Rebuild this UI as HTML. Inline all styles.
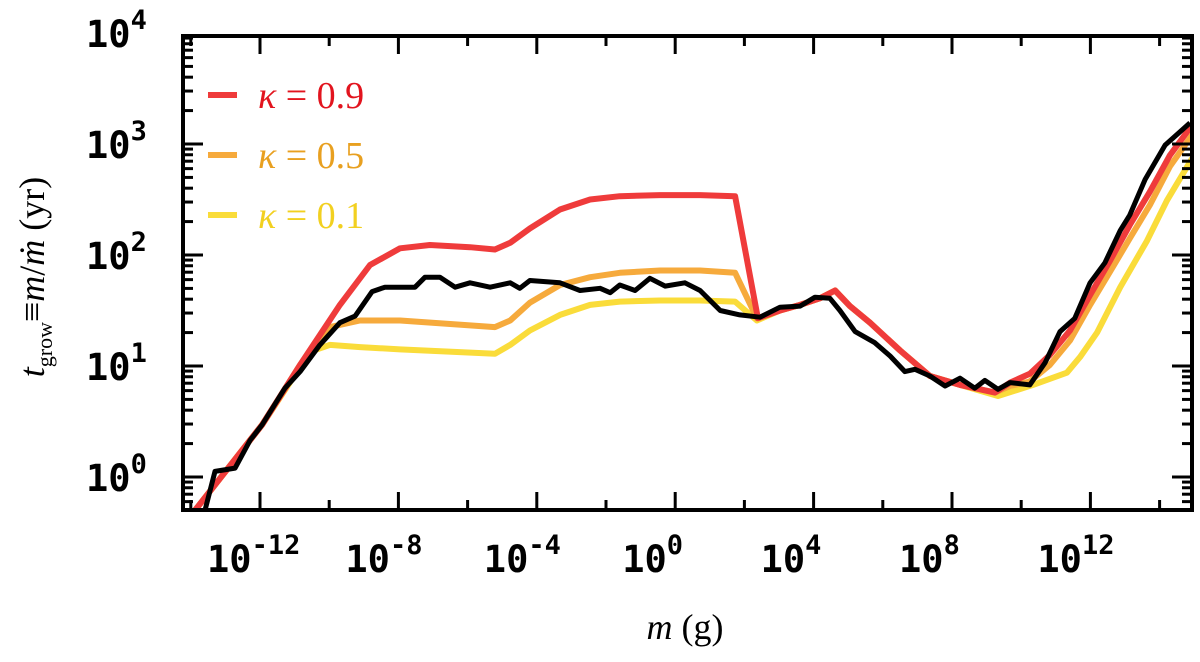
<!DOCTYPE html>
<html><head><meta charset="utf-8"><style>
body{margin:0;background:#fff;}
svg text{font-family:"DejaVu Sans Mono","Liberation Mono",monospace;}
</style></head><body>
<svg id="chart" width="1200" height="657" viewBox="0 0 1200 657" xmlns="http://www.w3.org/2000/svg">
<g id="plot"></g>
</svg>
<script>
const xTicks=[-12,-8,-4,0,4,8,12];
const yTicks=[0,1,2,3,4];
const blackM=[-13.59,-13.30,-12.72,-12.29,-11.94,-11.28,-10.84,-10.27,-9.69,-9.25,-8.76,-8.39,-7.95,-7.52,-7.23,-6.80,-6.36,-5.93,-5.35,-4.77,-4.49,-4.20,-3.33,-2.75,-2.17,-1.88,-1.60,-1.16,-0.73,-0.29,0.28,0.72,1.30,1.87,2.45,3.03,3.61,4.04,4.47,4.76,5.20,5.77,6.21,6.64,6.93,7.36,7.80,8.23,8.66,8.95,9.33,9.68,10.25,10.69,11.12,11.55,11.99,12.42,12.86,13.14,13.58,14.16,14.88];
const blackT=[-0.30,0.05,0.08,0.33,0.47,0.80,0.95,1.19,1.39,1.45,1.67,1.71,1.71,1.71,1.80,1.80,1.71,1.75,1.71,1.75,1.70,1.77,1.75,1.68,1.70,1.66,1.73,1.68,1.79,1.72,1.75,1.68,1.50,1.46,1.44,1.53,1.54,1.62,1.61,1.50,1.31,1.21,1.09,0.95,0.97,0.91,0.82,0.89,0.80,0.87,0.79,0.85,0.83,1.03,1.31,1.43,1.75,1.93,2.22,2.36,2.68,2.99,3.19];
const redM=[-13.88,-11.94,-10.84,-9.69,-8.82,-7.95,-7.09,-5.93,-5.21,-4.77,-4.20,-3.33,-2.46,-1.60,-0.44,0.72,1.73,2.39,3.03,3.61,4.18,4.62,5.05,5.63,6.50,7.36,8.23,9.24,9.68,10.25,10.83,11.41,11.99,12.57,13.14,13.72,14.30,14.94];
const redT=[-0.30,0.47,1.01,1.55,1.91,2.06,2.09,2.07,2.05,2.11,2.24,2.41,2.50,2.53,2.54,2.54,2.53,1.43,1.50,1.55,1.61,1.68,1.54,1.39,1.14,0.91,0.83,0.76,0.85,0.93,1.10,1.32,1.64,1.95,2.27,2.57,2.90,3.17];
const orangeM=[-13.88,-11.94,-10.84,-9.98,-9.11,-7.95,-5.21,-4.77,-4.20,-3.33,-2.46,-1.60,-0.44,0.72,1.73,2.36,3.03,3.61,4.18,4.62,5.05,5.63,6.50,7.36,8.23,9.24,9.68,10.25,10.83,11.41,11.99,12.57,13.14,13.72,14.30,14.94];
const orangeT=[-0.30,0.47,1.01,1.35,1.41,1.41,1.35,1.41,1.57,1.73,1.80,1.84,1.86,1.86,1.84,1.43,1.50,1.55,1.61,1.68,1.54,1.39,1.14,0.91,0.83,0.76,0.82,0.86,1.01,1.23,1.55,1.85,2.15,2.45,2.80,3.08];
const yellowM=[-13.88,-11.94,-10.55,-9.98,-9.11,-7.95,-5.21,-4.77,-4.20,-3.33,-2.46,-1.60,-0.44,0.72,1.73,2.36,3.03,3.61,4.18,4.62,5.05,5.63,6.50,7.36,8.23,9.33,10.34,11.32,11.70,12.19,12.86,13.64,14.21,14.94];
const yellowT=[-0.30,0.47,1.13,1.19,1.17,1.15,1.11,1.19,1.32,1.46,1.55,1.58,1.59,1.59,1.58,1.41,1.50,1.55,1.61,1.68,1.54,1.39,1.14,0.91,0.83,0.73,0.83,0.94,1.08,1.30,1.71,2.13,2.49,2.87];

const L=183,R=1192,T=36,B=510;
const X=v=>260+(v+12)*34.6;
const Y=v=>477-v*111;
const NS="http://www.w3.org/2000/svg";
const g=document.getElementById('plot');
function mk(tag,attrs,parent){const e=document.createElementNS(NS,tag);for(const k in attrs)e.setAttribute(k,attrs[k]);(parent||g).appendChild(e);return e;}

const clip=mk('clipPath',{id:'clip'});mk('rect',{x:L,y:T,width:R-L,height:B-T},clip);
const series=[[yellowM,yellowT,'#fadc3a','series-kappa-0.1',6],[orangeM,orangeT,'#f6aa3c','series-kappa-0.5',6],[redM,redT,'#ef3b3b','series-kappa-0.9',6],[blackM,blackT,'#000','series-simulation',5]];
for(const s of series){
  const d=s[0].map((m,i)=>(i?'L':'M')+X(m).toFixed(1)+','+Y(s[1][i]).toFixed(1)).join('');
  const p=mk('path',{d:d,fill:'none',stroke:s[2],'stroke-width':s[4],'stroke-linejoin':'round','clip-path':'url(#clip)'});
  
  
}
for(let v=-14;v<=14;v+=2){
  const x=X(v); if(x<L||x>R)continue;
  const len=(v%4===0)?18:10;
  mk('line',{x1:x,y1:B,x2:x,y2:B-len,stroke:'#000','stroke-width':3});
  mk('line',{x1:x,y1:T,x2:x,y2:T+len,stroke:'#000','stroke-width':3});
}
for(let d=-1;d<4;d++){for(let k=1;k<10;k++){
  const v=d+Math.log10(k);const y=Y(v); if(y<T-1||y>B)continue;
  const len=k===1?20:10;
  mk('line',{x1:L,y1:y,x2:L+len,y2:y,stroke:'#000','stroke-width':3});
  mk('line',{x1:R,y1:y,x2:R-len,y2:y,stroke:'#000','stroke-width':3});
}}
const frame=mk('rect',{x:L,y:T,width:R-L,height:B-T,fill:'none',stroke:'#000','stroke-width':4});


for(const v of xTicks){
  const t=mk('text',{x:X(v)-53,y:572,'font-size':37,'font-weight':'bold'});
  
  
  t.innerHTML='10<tspan dy="-18" font-size="27">'+(v<0?'-'+(-v):v)+'</tspan>';
}
for(const v of yTicks){
  const t=mk('text',{x:86,y:Y(v)+14,'font-size':37,'font-weight':'bold'});
  
  
  t.innerHTML='10<tspan dy="-18" font-size="27">'+v+'</tspan>';
}
const leg=[['#ef3b3b','#e2141e','0.9',95],['#f6aa3c','#e8a020','0.5',155],['#fadc3a','#f2d020','0.1',215]];
for(const l of leg){
  const ln=mk('line',{x1:208,y1:l[3],x2:237,y2:l[3],stroke:l[0],'stroke-width':6});
  
  
  const t=mk('text',{x:258,y:l[3]+13,'font-size':38,fill:l[1],style:'font-family:"Liberation Serif",serif'});
  
  
  t.innerHTML='<tspan font-style="italic">κ</tspan> = '+l[2];
}
const xt=mk('text',{x:685,y:639,'font-size':36,'text-anchor':'middle',style:'font-family:"Liberation Serif",serif'});


xt.innerHTML='<tspan font-style="italic">m</tspan> (g)';
const yt=mk('text',{x:0,y:0,'font-size':36,'text-anchor':'middle',transform:'translate(44,277) rotate(-90)',style:'font-family:"Liberation Serif",serif'});


yt.innerHTML='<tspan font-style="italic">t</tspan><tspan font-size="22" dy="8">grow</tspan><tspan dy="-8">≡</tspan><tspan font-style="italic">m</tspan>/<tspan font-style="italic">ṁ</tspan> (yr)';
</script>
</body></html>
